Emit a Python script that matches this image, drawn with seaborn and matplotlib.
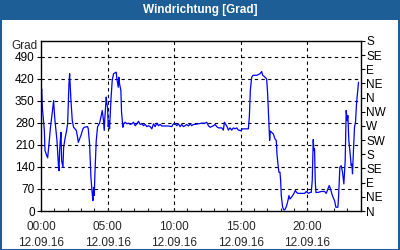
import matplotlib
matplotlib.use("Agg")
import matplotlib.pyplot as plt
import seaborn as sns
import pandas as pd
from matplotlib.patches import Rectangle

# ---- data ----
hours = [
    0.0, 0.05, 0.1, 0.25, 0.3, 0.43, 0.5, 0.6, 0.7, 0.8, 0.9, 0.95, 1.0, 1.05, 1.2, 1.3, 1.35, 1.4, 1.45,
    1.5, 1.55, 1.65, 1.7, 1.8, 1.9, 2.0, 2.05, 2.1, 2.15, 2.2, 2.25, 2.35, 2.45, 2.55, 2.65, 2.75, 2.8,
    2.9, 3.0, 3.15, 3.25, 3.5, 3.55, 3.65, 3.75, 3.85, 3.9, 3.95, 4.0, 4.05, 4.15, 4.25, 4.4, 4.5, 4.6,
    4.68, 4.75, 4.8, 4.9, 4.95, 5.0, 5.05, 5.1, 5.15, 5.25, 5.35, 5.45, 5.65, 5.7, 5.8, 5.85, 5.9, 6.0,
    6.05, 6.15,
    6.2, 6.325, 6.45, 6.575, 6.7, 6.825, 6.95, 7.075, 7.2, 7.325, 7.45, 7.575, 7.7, 7.825, 7.95, 8.075,
    8.2, 8.325, 8.45, 8.575, 8.7, 8.825, 8.95, 9.075, 9.325, 9.575, 9.825, 9.95, 10.075, 10.2, 10.325,
    10.45, 10.575, 10.7, 10.825, 10.95, 11.075, 11.2, 11.325, 11.45, 11.575, 11.825, 12.075,
    12.325, 12.45, 12.575, 12.7, 12.825, 12.95, 13.075, 13.2, 13.325, 13.45, 13.575, 13.7, 13.775,
    13.875, 13.975, 14.075, 14.2, 14.325, 14.45, 14.575, 14.7, 14.825, 15.0, 15.125, 15.275, 15.575,
    15.65, 15.725, 15.825, 15.925, 16.2, 16.45, 16.575, 16.65, 16.75, 16.95, 17.025, 17.125, 17.175,
    17.225, 17.325, 17.45, 17.575, 17.675, 17.725, 17.825, 17.875, 17.95, 18.0, 18.05, 18.15, 18.25,
    18.35, 18.45, 18.55, 18.625, 18.7, 18.8, 18.9, 19.0, 19.1, 19.2, 19.3, 19.55, 19.8, 19.925, 20.0,
    20.1, 20.2, 20.3, 20.375, 20.45, 20.5, 20.55, 20.6, 20.65, 20.8, 21.05, 21.3, 21.425, 21.55, 21.65,
    21.75, 21.85, 21.95, 22.05, 22.15, 22.3, 22.35, 22.45, 22.55, 22.65, 22.75, 22.85, 22.925, 23.0,
    23.05, 23.125, 23.2, 23.3, 23.35, 23.4, 23.45, 23.55, 23.625, 23.7, 23.8, 23.85,
]
degrees = [
    363, 388, 330, 256, 192, 176, 169, 213, 261, 298, 335, 351, 314, 287, 224, 150, 128, 192, 224,
    250, 160, 139, 202, 229, 250, 277, 340, 404, 436, 393, 351, 287, 266, 261, 256, 234, 218,
    229, 240, 261, 266, 268, 261, 213, 107, 54, 33, 75, 49, 118, 224, 268, 279, 298, 319,
    293, 256, 298, 362, 341, 330, 267, 287, 261, 351, 415, 436, 441, 420, 393, 425, 404, 383,
    314, 266,
    277, 282, 277, 279, 275, 277, 282, 271, 277, 285, 275, 277, 271, 275, 268, 271,
    268, 261, 277, 268, 279, 271, 275, 270, 270, 270, 268, 277, 277, 271, 277,
    268, 275, 268, 271, 275, 270, 277, 271, 275, 275, 277, 279,
    279, 282, 271, 266, 268, 271, 275, 268, 264, 264, 264, 257, 282,
    275, 268, 257, 264, 257, 264, 261, 264, 257, 255, 261, 261, 261,
    298, 383, 425, 431, 431, 436, 443, 431, 428, 420, 372, 277, 224,
    254, 250, 245, 229, 224, 181, 139, 123, 123, 97, 49, 12, 3,
    6, 17, 33, 49, 38, 43, 49, 56, 65, 59, 56, 56, 56, 62, 59,
    56, 59, 59, 97, 227, 192, 197, 97, 59, 59, 62, 62, 56, 70, 81,
    70, 54, 43, 33, 12, 12, 43, 139, 144, 123, 86, 161, 319, 287,
    303, 223, 192, 144, 149, 118, 171, 266, 282, 340, 388, 409,
]
left_ticks = [0, 70, 140, 210, 280, 350, 420, 490]
right_ticks = [0, 45, 90, 135, 180, 225, 270, 315, 360, 405, 450, 495, 540]
right_labels = ["N", "NE", "E", "SE", "S", "SW", "W", "NW", "N", "NE", "E", "SE", "S"]
x_ticks = [0, 5, 10, 15, 20]
x_labels = ["00:00\n12.09.16", "05:00\n12.09.16", "10:00\n12.09.16",
            "15:00\n12.09.16", "20:00\n12.09.16"]
title = "Windrichtung [Grad]"
unit = "Grad"

df = pd.DataFrame({"hour": hours, "deg": degrees})

sns.set_style("white")
plt.rcParams["font.family"] = ["Liberation Sans", "DejaVu Sans"]
plt.rcParams["font.size"] = 8.5

BLUE = "#1c5e95"
FS = 8.5
fig = plt.figure(figsize=(4, 2.5), dpi=100)
fig.patch.set_facecolor("white")

# title bar and border
fig.patches.append(Rectangle((0, 1 - 20 / 250), 1, 20 / 250, transform=fig.transFigure,
                             facecolor=BLUE, edgecolor="none", zorder=0))
fig.patches.append(Rectangle((0.002, 0.002), 0.996, 0.996, transform=fig.transFigure,
                             facecolor="none", edgecolor=BLUE, linewidth=1.5, zorder=1))
fig.text(0.5, 1 - 10.5 / 250, title, color="white", fontweight="bold", fontsize=8.5,
         ha="center", va="center")

ax = fig.add_axes([41 / 400, 1 - 211 / 250, (360.5 - 41) / 400, (211 - 41) / 250])
sns.lineplot(data=df, x="hour", y="deg", ax=ax, color="#0000ff", linewidth=0.9,
             estimator=None, sort=False)
ax.set_xlim(0, 24)
ax.set_ylim(0, 540)
ax.set_xlabel("")
ax.set_ylabel("")

ax.set_yticks(left_ticks)
ax.set_yticklabels([str(v) for v in left_ticks])
ax.set_xticks(x_ticks)
ax.set_xticklabels(x_labels, linespacing=1.4)
ax.set_xticks(range(0, 25), minor=True)
ax.tick_params(axis="y", direction="out", length=3, width=0.8, pad=1.5, labelsize=FS,
               left=True, colors="black")
ax.tick_params(axis="x", which="both", direction="in", length=2.5, width=0.8, pad=7.5,
               labelsize=FS, bottom=True)

for v in left_ticks[1:]:
    ax.axhline(v, color="black", linewidth=0.8, linestyle=(0, (3, 3)), zorder=0)
for v in x_ticks[1:]:
    ax.axvline(v, color="black", linewidth=0.8, linestyle=(0, (3, 3)), zorder=0)

for s in ax.spines.values():
    s.set_color("black")
    s.set_linewidth(1.0)

ax2 = ax.twinx()
ax2.set_ylim(0, 540)
ax2.set_yticks(right_ticks)
ax2.set_yticklabels(right_labels)
ax2.tick_params(axis="y", direction="out", length=3, width=0.8, pad=1, labelsize=FS,
                right=True, colors="black")
for s in ax2.spines.values():
    s.set_visible(False)

fig.text(37 / 400, 1 - 46 / 250, unit, ha="right", va="center", fontsize=FS)

fig.savefig("out.png", dpi=100)
